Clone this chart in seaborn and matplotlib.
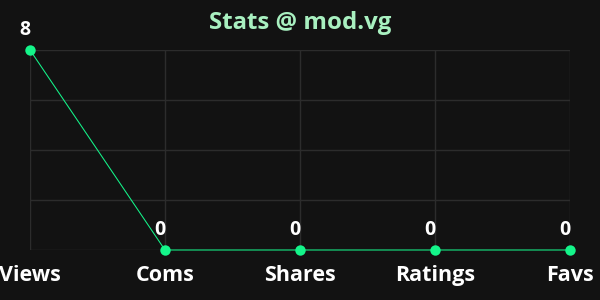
import matplotlib
matplotlib.use("Agg")
import matplotlib.pyplot as plt
import seaborn as sns
import pandas as pd

categories = ["Views", "Coms", "Shares", "Ratings", "Favs"]
values = [8, 0, 0, 0, 0]
title = "Stats @ mod.vg"

BG = "#121212"
LINE = "#14f58a"
GRID = "#2c2c2c"

sns.set_theme(style="dark")
plt.rcParams['font.family'] = ['Open Sans', 'DejaVu Sans']

df = pd.DataFrame({"cat": categories, "val": values, "pos": range(len(categories))})

fig = plt.figure(figsize=(6, 3), dpi=100, facecolor=BG)
ax = fig.add_axes([0.05, 1/6, 0.90, 4/6])
ax.set_facecolor(BG)

sns.lineplot(data=df, x="pos", y="val", ax=ax, color=LINE, linewidth=0.75,
             marker="o", markersize=7.5, markeredgewidth=0, clip_on=False, zorder=3)

ax.set_xlim(0, len(categories) - 1)
ax.set_ylim(0, 8)
ax.set_xticks(df["pos"])
ax.set_xticklabels(categories, color="white", fontsize=15.5, fontweight="bold")
ax.set_yticks([0, 2, 4, 6, 8])
ax.set_yticklabels([])
ax.tick_params(axis="x", length=0, pad=10.5)
ax.tick_params(axis="y", length=0)
ax.grid(True, color=GRID, linewidth=1)
for s in ax.spines.values():
    s.set_visible(False)
ax.set_xlabel("")
ax.set_ylabel("")

for x, v in zip(df["pos"], df["val"]):
    ax.annotate(str(v), (x, v), xytext=(-3.5, 7), textcoords="offset points",
                ha="center", va="bottom", color="white", fontsize=14,
                fontweight="bold", annotation_clip=False)

fig.text(0.5, 0.922, title, ha="center", va="center", color="#a8f0c0",
         fontsize=17.3, fontweight="bold")

fig.savefig("out.png", dpi=100, facecolor=BG)
